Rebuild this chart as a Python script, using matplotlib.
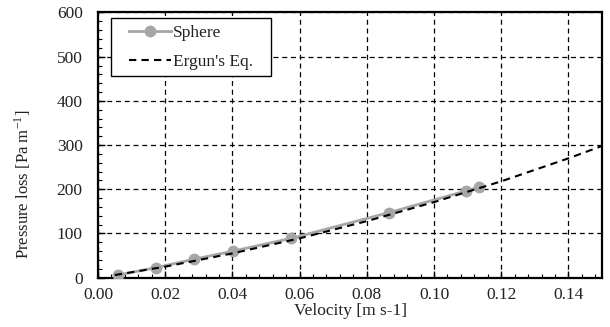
import matplotlib
matplotlib.use("Agg")
import matplotlib.pyplot as plt
from matplotlib.ticker import MultipleLocator, FormatStrFormatter
from matplotlib.patches import Rectangle

plt.rcParams['font.family'] = ['Liberation Serif', 'DejaVu Serif']
plt.rcParams['mathtext.fontset'] = 'stix'

sphere_v = [0.0059, 0.0174, 0.0287, 0.0401, 0.0575, 0.0865, 0.1094, 0.1135]
sphere_dp = [6, 23, 42, 60, 89, 147, 196, 205]

ergun_v = [0.005, 0.02, 0.04, 0.06, 0.08, 0.10, 0.12, 0.14, 0.15]
ergun_dp = [6, 25, 55, 89, 128, 171, 218, 270, 298]

x_ticks_fmt = '%.2f'

fig = plt.figure(figsize=(6.10, 3.27), dpi=100)
ax = fig.add_axes([0.1607, 0.1508, 0.8262, 0.811])

ax.plot(sphere_v, sphere_dp, color='#a6a6a6', lw=2, marker='o', ms=7.5,
        mfc='#a6a6a6', mec='#a6a6a6', label='Sphere', zorder=3)
ax.plot(ergun_v, ergun_dp, color='black', lw=1.5, ls=(0, (3.5, 2.5)),
        label="Ergun's Eq.", zorder=4)

ax.set_xlim(0, 0.15)
ax.set_ylim(0, 600)
ax.xaxis.set_major_locator(MultipleLocator(0.02))
ax.xaxis.set_minor_locator(MultipleLocator(0.004))
ax.yaxis.set_major_locator(MultipleLocator(100))
ax.yaxis.set_minor_locator(MultipleLocator(20))
ax.xaxis.set_major_formatter(FormatStrFormatter(x_ticks_fmt))

ax.grid(True, which='major', color='black', ls=(0, (4, 3)), lw=0.9)
ax.tick_params(which='both', direction='in', labelsize=12.5, color='black',
               labelcolor='#222222')
ax.tick_params(which='major', length=5, width=1)
ax.tick_params(which='minor', length=3, width=0.8)
ax.tick_params(axis='x', pad=7)
ax.tick_params(axis='y', pad=11)

for s in ax.spines.values():
    s.set_linewidth(1.6)

ax.set_xlabel('Velocity [m s-1]', fontsize=12.5, labelpad=0, color='#222222')
ax.set_ylabel('Pressure loss [Pa m$^{\\mathregular{-1}}$]', fontsize=12,
              color='#222222')
ax.yaxis.set_label_coords(-0.13, 0.351)

leg = ax.legend(loc='upper left', bbox_to_anchor=(0.062, 0.955), fontsize=12.5,
                frameon=False, handlelength=2.4, borderpad=0.0,
                labelspacing=0.75, handletextpad=0.1, borderaxespad=0)
for t in leg.get_texts():
    t.set_color('#222222')
leg.set_zorder(6)

# white frame around legend (drawn after measuring the legend)
fig.canvas.draw()
bb = leg.get_window_extent().transformed(fig.transFigure.inverted())
padx, pady = 18 / 610, 6 / 327
rect = Rectangle((bb.x0 - padx, bb.y0 - pady), bb.width + 2 * padx,
                 bb.height + 2 * pady, transform=fig.transFigure,
                 facecolor='white', edgecolor='black', lw=1.0, zorder=5)
ax.add_artist(rect)
rect.set_clip_on(False)

fig.savefig('out.png', dpi=100)
